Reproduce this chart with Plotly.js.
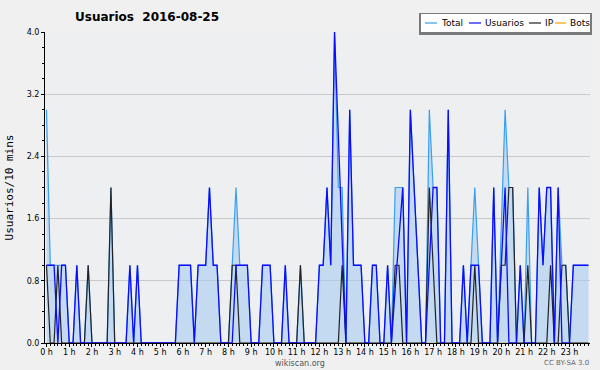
<!DOCTYPE html>
<html><head><meta charset="utf-8">
<script src="https://cdn.plot.ly/plotly-3.0.1.min.js"></script>
<style>html,body{margin:0;padding:0;background:#f0f0f0}</style>
</head><body><div id="chart" style="width:600px;height:370px"></div>
<script>
const hourLabels = ["0 h","1 h","2 h","3 h","4 h","5 h","6 h","7 h","8 h","9 h","10 h","11 h","12 h","13 h","14 h","15 h","16 h","17 h","18 h","19 h","20 h","21 h","22 h","23 h"];
const seriesNames = ["Total","Usuarios","IP","Bots"];
const total = [
 3,1,1,1,1,1,0,0,1,0,0,1,
 0,0,0,0,0,2,0,0,0,0,1,0,
 1,0,0,0,0,0,0,0,0,0,0,1,
 1,1,1,0,1,1,1,2,1,1,0,0,
 0,1,2,1,1,1,0,0,0,1,1,1,
 0,0,0,1,0,0,0,1,0,0,0,0,
 1,1,2,1,4,2,2,0,3,1,1,1,
 0,0,1,1,0,0,1,0,2,2,2,0,
 3,2,1,0,0,3,2,2,0,0,3,0,
 0,0,1,0,1,2,1,0,0,0,2,0,
 1.5,3,2,2,0,1,0,2,0,0,2,1,
 2,2,0,2,1,1,0,1,1,1,1,1];
const usuarios = [
 1,1,1,0,1,1,0,0,1,0,0,0,
 0,0,0,0,0,0,0,0,0,0,1,0,
 1,0,0,0,0,0,0,0,0,0,0,1,
 1,1,1,0,1,1,1,2,1,1,0,0,
 0,0,1,1,1,1,0,0,0,1,1,1,
 0,0,0,1,0,0,0,0,0,0,0,0,
 1,1,2,1,4,2.7,1.3,0,3,1,1,1,
 0,0,1,1,0,0,1,0,0.7,1.3,2,0,
 3,2,1,0,0,1,2,2,0,0,3,0,
 0,0,1,0,1,1,1,0,0,0,2,0,
 1,2,0,0,0,1,0,0,0,0,2,1,
 2,2,0,2,0,0,0,1,1,1,1,1];
const ip = [
 1,0,0,1,0,0,0,0,0,0,0,1,
 0,0,0,0,0,2,0,0,0,0,0,0,
 0,0,0,0,0,0,0,0,0,0,0,0,
 0,0,0,0,0,0,0,0,0,0,0,0,
 0,1,1,0,0,0,0,0,0,0,0,0,
 0,0,0,0,0,0,0,1,0,0,0,0,
 0,0,0,0,0,0,1,0,0,0,0,0,
 0,0,0,0,0,0,0,0,1,1,0,0,
 0,0,0,0,0,2,1,0,0,0,0,0,
 0,0,0,0,0,1,0,0,0,0,0,0,
 1,1,2,2,0,0,0,1,0,0,0,0,
 0,1,0,0,1,1,0,0,0,0,0,0];
const bots = new Array(144).fill(0);
const yTicks = [0, 0.8, 1.6, 2.4, 3.2, 4.0];

const minutes = total.map((_, i) => i * 10);
const hourTickVals = hourLabels.map((_, h) => h * 60);

const colors = {Total:'#3a9ff0', Usuarios:'#0b0bff', IP:'#222228', Bots:'#ffa000'};

// pixel -> paper helpers (plot area 45..590 x 32..343)
const L=45,R=590,T=32,B=343;
const fx = p => (p-L)/(R-L);
const fy = p => (B-p)/(B-T);

const traces = [
 {x:minutes, y:bots, type:'scatter', mode:'lines', name:'Bots', line:{color:colors.Bots, width:1.2}, showlegend:false, hoverinfo:'skip'},
 {x:minutes, y:total, type:'scatter', mode:'lines', name:'Total', fill:'tozeroy', fillcolor:'rgba(160,200,238,0.55)', line:{color:colors.Total, width:1.2}, showlegend:false},
 {x:minutes, y:ip, type:'scatter', mode:'lines', name:'IP', line:{color:colors.IP, width:1.2}, showlegend:false},
 {x:minutes, y:usuarios, type:'scatter', mode:'lines', name:'Usuarios', line:{color:colors.Usuarios, width:1.3}, showlegend:false}
];

// custom legend
const legendItems = [
 {name:seriesNames[0], x1:425, x2:437, tx:440},
 {name:seriesNames[1], x1:469, x2:481, tx:484},
 {name:seriesNames[2], x1:529, x2:541, tx:544},
 {name:seriesNames[3], x1:555, x2:566, tx:569}
];
const shapes = [
 {type:'rect', xref:'paper', yref:'paper', x0:fx(419), x1:fx(592), y0:fy(35), y1:fy(13), fillcolor:'#7a7a7a', line:{width:0}, layer:'above'},
 {type:'rect', xref:'paper', yref:'paper', x0:fx(421), x1:fx(590), y0:fy(32), y1:fy(14), fillcolor:'#ffffff', line:{width:0}, layer:'above'}
];
const annotations = [];
legendItems.forEach(it => {
 shapes.push({type:'line', xref:'paper', yref:'paper', x0:fx(it.x1), x1:fx(it.x2), y0:fy(23), y1:fy(23), line:{color:colors[it.name], width:1.2}, layer:'above'});
 annotations.push({text:it.name, xref:'paper', yref:'paper', x:fx(it.tx), y:fy(23), xanchor:'left', yanchor:'middle', showarrow:false, borderpad:0, font:{family:'DejaVu Sans', size:9, color:'#000'}});
});
annotations.push({text:'wikiscan.org', xref:'paper', yref:'paper', x:fx(300), y:fy(363), xanchor:'center', yanchor:'middle', showarrow:false, borderpad:0, font:{family:'DejaVu Sans', size:8, color:'#555'}});
annotations.push({text:'CC BY-SA 3.0', xref:'paper', yref:'paper', x:fx(590), y:fy(363), xanchor:'right', yanchor:'middle', showarrow:false, borderpad:0, font:{family:'DejaVu Sans', size:7, color:'#666'}});

const layout = {
 width:600, height:370,
 margin:{l:L, r:600-R, t:T, b:370-B},
 paper_bgcolor:'#f0f0f0', plot_bgcolor:'#eeeff1',
 title:{text:'Usuarios\u00a0 2016-08-25', xref:'container', yref:'container', x:75/600, xanchor:'left', y:1-17/370, yanchor:'middle', font:{family:'DejaVu Sans', size:12, weight:'bold', color:'#000'}},
 xaxis:{range:[-3.96,1434], tickmode:'array', tickvals:hourTickVals, ticktext:hourLabels, ticks:'outside', ticklen:3, tickcolor:'#000', ticklabelstandoff:-2, showline:true, linecolor:'#000', linewidth:1, showgrid:false, zeroline:false, tickfont:{family:'DejaVu Sans', size:8, color:'#000'}, minor:{tickmode:'linear', tick0:0, dtick:10, ticks:'outside', ticklen:2, tickcolor:'#000', showgrid:false}, fixedrange:true},
 yaxis:{range:[0,4], tickmode:'array', tickvals:yTicks, ticktext:yTicks.map(v=>v.toFixed(1)), ticks:'outside', ticklen:3, tickcolor:'#000', showline:true, linecolor:'#000', linewidth:1, showgrid:true, gridcolor:'#c9c9c9', gridwidth:1, zeroline:false, tickfont:{family:'DejaVu Sans', size:8, color:'#000'}, minor:{tickmode:'linear', tick0:0, dtick:0.2, ticks:'outside', ticklen:2, tickcolor:'#000', showgrid:false}, title:{text:'Usuarios/10 mins', font:{family:'DejaVu Sans Mono', size:11, color:'#000'}, standoff:10}, fixedrange:true},
 shapes:shapes, annotations:annotations, showlegend:false
};
Plotly.newPlot('chart', traces, layout, {displayModeBar:false, staticPlot:true});
</script></body></html>
